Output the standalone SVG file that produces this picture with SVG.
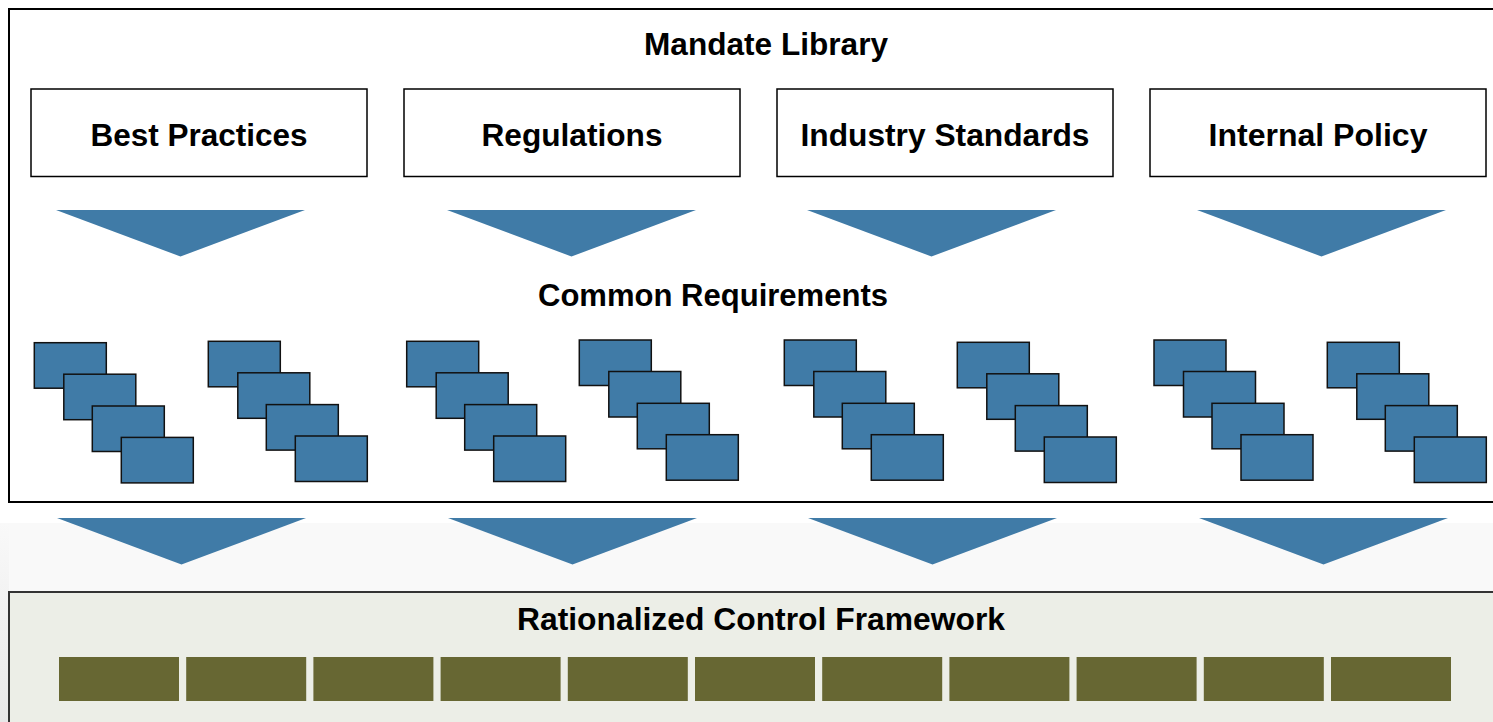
<svg xmlns="http://www.w3.org/2000/svg" xmlns:xlink="http://www.w3.org/1999/xlink" width="1493" height="722" viewBox="0 0 1493 722">
<style>
.t{font-family:"Liberation Sans",Arial,Helvetica,sans-serif;font-weight:bold;fill:#000;text-anchor:middle}
.box{fill:#fff;stroke:#000;stroke-width:1.5}
.arrow{fill:#407BA7}
.req{fill:#407BA7;stroke:#111;stroke-width:1.5}
.ctl{fill:#676733}
</style>
<defs>
<linearGradient id="leftfade" x1="0" y1="0" x2="0" y2="1">
<stop offset="0" stop-color="#f9f9f9"/>
<stop offset="1" stop-color="#e8e8e8"/>
</linearGradient>
<g id="stack">
<rect class="req" x="0" y="0" width="72" height="45.5"/>
<rect class="req" x="29.5" y="31.5" width="72" height="45.5"/>
<rect class="req" x="58" y="63.3" width="72" height="45.5"/>
<rect class="req" x="87" y="94.7" width="72" height="45.5"/>
</g>
<polygon id="tri" points="0,0 249,0 124.5,46.5"/>
</defs>
<rect x="0" y="0" width="1493" height="722" fill="#fff"/>
<rect x="0" y="523" width="1493" height="199" fill="#f9f9f9"/>
<rect x="0" y="523" width="9" height="199" fill="url(#leftfade)"/>

<g id="mandate-library">
<rect x="9" y="9" width="1495" height="493" fill="#fff" stroke="#000" stroke-width="2"/>
<text class="t" x="766" y="54.5" font-size="31" textLength="244" lengthAdjust="spacingAndGlyphs">Mandate Library</text>
</g>

<g id="best-practices">
<rect class="box" x="31" y="89" width="336" height="87.5"/>
<text class="t" x="199" y="145.5" font-size="31" textLength="217" lengthAdjust="spacingAndGlyphs">Best Practices</text>
</g>
<g id="regulations">
<rect class="box" x="404" y="89" width="336" height="87.5"/>
<text class="t" x="572" y="145.5" font-size="31" textLength="181" lengthAdjust="spacingAndGlyphs">Regulations</text>
</g>
<g id="industry-standards">
<rect class="box" x="777" y="89" width="336" height="87.5"/>
<text class="t" x="945" y="145.5" font-size="31" textLength="289" lengthAdjust="spacingAndGlyphs">Industry Standards</text>
</g>
<g id="internal-policy">
<rect class="box" x="1150" y="89" width="336" height="87.5"/>
<text class="t" x="1318" y="145.5" font-size="31" textLength="219" lengthAdjust="spacingAndGlyphs">Internal Policy</text>
</g>

<g id="connectors">
<use href="#tri" class="arrow" x="56" y="210"/>
<use href="#tri" class="arrow" x="447" y="210"/>
<use href="#tri" class="arrow" x="807" y="210"/>
<use href="#tri" class="arrow" x="1197" y="210"/>
<use href="#tri" class="arrow" x="57" y="518"/>
<use href="#tri" class="arrow" x="448" y="518"/>
<use href="#tri" class="arrow" x="808" y="518"/>
<use href="#tri" class="arrow" x="1199" y="518"/>
</g>

<g id="common-requirements">
<text class="t" x="713" y="305.5" font-size="31" textLength="350" lengthAdjust="spacingAndGlyphs">Common Requirements</text>
</g>
<g id="req-1"><use href="#stack" x="34.3" y="342.7"/></g>
<g id="req-2"><use href="#stack" x="208.3" y="341.3"/></g>
<g id="req-3"><use href="#stack" x="406.7" y="341.3"/></g>
<g id="req-4"><use href="#stack" x="579.3" y="340"/></g>
<g id="req-5"><use href="#stack" x="784.3" y="340"/></g>
<g id="req-6"><use href="#stack" x="957.3" y="342.3"/></g>
<g id="req-7"><use href="#stack" x="1154" y="340"/></g>
<g id="req-8"><use href="#stack" x="1327.3" y="342.3"/></g>

<g id="rationalized-control-framework">
<rect x="9" y="592" width="1495" height="140" fill="#ECEEE7" stroke="#333" stroke-width="2"/>
<text class="t" x="761" y="630" font-size="31" textLength="488" lengthAdjust="spacingAndGlyphs">Rationalized Control Framework</text>
<rect class="ctl" x="59" y="657" width="120" height="44"/>
<rect class="ctl" x="186.2" y="657" width="120" height="44"/>
<rect class="ctl" x="313.4" y="657" width="120" height="44"/>
<rect class="ctl" x="440.6" y="657" width="120" height="44"/>
<rect class="ctl" x="567.8" y="657" width="120" height="44"/>
<rect class="ctl" x="695" y="657" width="120" height="44"/>
<rect class="ctl" x="822.2" y="657" width="120" height="44"/>
<rect class="ctl" x="949.4" y="657" width="120" height="44"/>
<rect class="ctl" x="1076.6" y="657" width="120" height="44"/>
<rect class="ctl" x="1203.8" y="657" width="120" height="44"/>
<rect class="ctl" x="1331" y="657" width="120" height="44"/>
</g>
</svg>
